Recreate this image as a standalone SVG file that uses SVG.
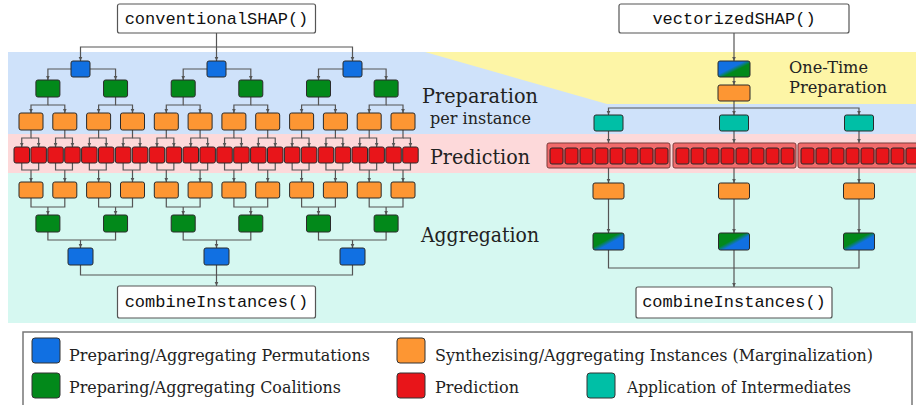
<svg xmlns="http://www.w3.org/2000/svg" width="916" height="405" viewBox="0 0 916 405">
<style>
.n{stroke:#2b2b2b;stroke-width:1;rx:2px}
.b{fill:#1170e2}.g{fill:#02891a}.o{fill:#fd9633}.r{fill:#e8151a}.t{fill:#00bfa6}
.rg{fill:#f26b6b;stroke:#7a3a3a;stroke-width:1;rx:2px}
.fb{fill:#fff;stroke:#555;stroke-width:1.2;rx:2px}
.mono{font-family:"Liberation Mono","DejaVu Sans Mono",monospace;font-size:17px;fill:#111}
.lab{font-family:"DejaVu Serif","Liberation Serif",serif;fill:#222}
.leg{font-family:"DejaVu Serif","Liberation Serif",serif;font-size:17px;fill:#222}
.c{fill:none;stroke:#555;stroke-width:1.2}
.a{marker-end:url(#ah)}
.lsq{stroke:#333;stroke-width:1;rx:3px}
</style>
<defs>
<marker id="ah" viewBox="0 0 6 6" refX="6" refY="3" markerWidth="4.5" markerHeight="4.5" orient="auto" markerUnits="userSpaceOnUse"><path d="M0,0.3 L6,3 L0,5.7z" fill="#555"/></marker>
<linearGradient id="bgG" x1="0" y1="0" x2="1" y2="1"><stop offset="0.42" stop-color="#1170e2"/><stop offset="0.58" stop-color="#02891a"/></linearGradient>
<linearGradient id="gbG" x1="0" y1="0" x2="1" y2="1"><stop offset="0.42" stop-color="#02891a"/><stop offset="0.58" stop-color="#1170e2"/></linearGradient>
</defs>

<g id="bands">
<rect x="8" y="52" width="908" height="82" fill="#cfe2fa"/>
<polygon points="425,52 916,52 916,104 607,104" fill="#fdf5a6"/>
<rect x="8" y="134" width="908" height="39" fill="#fdd9da"/>
<rect x="8" y="173" width="908" height="150" fill="#d6f8f1"/>
</g>

<g id="labels">
<text class="lab" x="422" y="103" font-size="21" textLength="116" lengthAdjust="spacingAndGlyphs">Preparation</text>
<text class="lab" x="430" y="124" font-size="16" textLength="101" lengthAdjust="spacingAndGlyphs">per instance</text>
<text class="lab" x="430" y="164" font-size="21" textLength="100" lengthAdjust="spacingAndGlyphs">Prediction</text>
<text class="lab" x="421" y="242" font-size="21" textLength="118" lengthAdjust="spacingAndGlyphs">Aggregation</text>
<text class="lab" x="789" y="73" font-size="17" textLength="79" lengthAdjust="spacingAndGlyphs">One-Time</text>
<text class="lab" x="789" y="93" font-size="17" textLength="98" lengthAdjust="spacingAndGlyphs">Preparation</text>
</g>

<g id="connectors">
<path class="c" d="M216.5,33 V47"/>
<path class="c a" d="M216.5,47 H80.5 V61"/>
<path class="c a" d="M216.5,47 V61"/>
<path class="c a" d="M216.5,47 H352.5 V61"/>
<path class="c a" d="M71,69 H47.9 V80"/>
<path class="c a" d="M90,69 H115.55 V80"/>
<path class="c a" d="M207,69 H183.2 V80"/>
<path class="c a" d="M226,69 H250.8 V80"/>
<path class="c a" d="M343,69 H318.5 V80"/>
<path class="c a" d="M362,69 H386.1 V80"/>
<path class="c a" d="M47.9,97 V105 H31 V113"/><path class="c a" d="M47.9,105 H64.8 V113"/>
<path class="c a" d="M115.55,97 V105 H98.6 V113"/><path class="c a" d="M115.55,105 H132.5 V113"/>
<path class="c a" d="M183.2,97 V105 H166.3 V113"/><path class="c a" d="M183.2,105 H200.1 V113"/>
<path class="c a" d="M250.8,97 V105 H233.9 V113"/><path class="c a" d="M250.8,105 H267.7 V113"/>
<path class="c a" d="M318.5,97 V105 H301.6 V113"/><path class="c a" d="M318.5,105 H335.4 V113"/>
<path class="c a" d="M386.1,97 V105 H369.2 V113"/><path class="c a" d="M386.1,105 H403 V113"/>
<path class="c a" d="M31,130 V138 H21.75 V147"/><path class="c a" d="M31,138 H38.65 V147"/>
<path class="c a" d="M64.8,130 V138 H55.55 V147"/><path class="c a" d="M64.8,138 H72.45 V147"/>
<path class="c a" d="M98.6,130 V138 H89.35 V147"/><path class="c a" d="M98.6,138 H106.25 V147"/>
<path class="c a" d="M132.5,130 V138 H123.15 V147"/><path class="c a" d="M132.5,138 H140.05 V147"/>
<path class="c a" d="M166.3,130 V138 H156.95 V147"/><path class="c a" d="M166.3,138 H173.85 V147"/>
<path class="c a" d="M200.1,130 V138 H190.75 V147"/><path class="c a" d="M200.1,138 H207.65 V147"/>
<path class="c a" d="M233.9,130 V138 H224.55 V147"/><path class="c a" d="M233.9,138 H241.45 V147"/>
<path class="c a" d="M267.7,130 V138 H258.35 V147"/><path class="c a" d="M267.7,138 H275.25 V147"/>
<path class="c a" d="M301.6,130 V138 H292.15 V147"/><path class="c a" d="M301.6,138 H309.05 V147"/>
<path class="c a" d="M335.4,130 V138 H325.95 V147"/><path class="c a" d="M335.4,138 H342.85 V147"/>
<path class="c a" d="M369.2,130 V138 H359.75 V147"/><path class="c a" d="M369.2,138 H376.65 V147"/>
<path class="c a" d="M403,130 V138 H393.55 V147"/><path class="c a" d="M403,138 H410.45 V147"/>
<path class="c" d="M21.75,163 V170 H38.65 V163"/><path class="c a" d="M31,170 V182"/>
<path class="c" d="M55.55,163 V170 H72.45 V163"/><path class="c a" d="M64.8,170 V182"/>
<path class="c" d="M89.35,163 V170 H106.25 V163"/><path class="c a" d="M98.6,170 V182"/>
<path class="c" d="M123.15,163 V170 H140.05 V163"/><path class="c a" d="M132.5,170 V182"/>
<path class="c" d="M156.95,163 V170 H173.85 V163"/><path class="c a" d="M166.3,170 V182"/>
<path class="c" d="M190.75,163 V170 H207.65 V163"/><path class="c a" d="M200.1,170 V182"/>
<path class="c" d="M224.55,163 V170 H241.45 V163"/><path class="c a" d="M233.9,170 V182"/>
<path class="c" d="M258.35,163 V170 H275.25 V163"/><path class="c a" d="M267.7,170 V182"/>
<path class="c" d="M292.15,163 V170 H309.05 V163"/><path class="c a" d="M301.6,170 V182"/>
<path class="c" d="M325.95,163 V170 H342.85 V163"/><path class="c a" d="M335.4,170 V182"/>
<path class="c" d="M359.75,163 V170 H376.65 V163"/><path class="c a" d="M369.2,170 V182"/>
<path class="c" d="M393.55,163 V170 H410.45 V163"/><path class="c a" d="M403,170 V182"/>
<path class="c" d="M31,198 V207 H64.8 V198"/><path class="c a" d="M47.9,207 V215"/>
<path class="c" d="M98.6,198 V207 H132.5 V198"/><path class="c a" d="M115.55,207 V215"/>
<path class="c" d="M166.3,198 V207 H200.1 V198"/><path class="c a" d="M183.2,207 V215"/>
<path class="c" d="M233.9,198 V207 H267.7 V198"/><path class="c a" d="M250.8,207 V215"/>
<path class="c" d="M301.6,198 V207 H335.4 V198"/><path class="c a" d="M318.5,207 V215"/>
<path class="c" d="M369.2,198 V207 H403 V198"/><path class="c a" d="M386.1,207 V215"/>
<path class="c" d="M47.9,232 V240 H115.55 V232"/><path class="c a" d="M80.5,240 V248"/>
<path class="c" d="M183.2,232 V240 H250.8 V232"/><path class="c a" d="M216.5,240 V248"/>
<path class="c" d="M318.5,232 V240 H386.1 V232"/><path class="c a" d="M352.5,240 V248"/>
<path class="c" d="M80.5,265 V275 H352.5 V265"/><path class="c" d="M216.5,265 V275"/><path class="c a" d="M216.5,275 V286"/>
<path class="c a" d="M734,33 V61"/>
<path class="c a" d="M734,77 V85"/>
<path class="c" d="M734,101 V108"/>
<path class="c a" d="M734,108 H608.5 V115"/>
<path class="c a" d="M734,108 V115"/>
<path class="c a" d="M734,108 H859 V115"/>
<path class="c a" d="M608.5,131 V143"/><path class="c a" d="M734,131 V143"/><path class="c a" d="M859,131 V143"/>
<path class="c a" d="M608.5,168 V183"/><path class="c a" d="M734,168 V183"/><path class="c a" d="M859,168 V183"/>
<path class="c a" d="M608.5,199 V233"/><path class="c a" d="M734,199 V233"/><path class="c a" d="M859,199 V233"/>
<path class="c" d="M608.5,250 V268 H859 V250"/><path class="c" d="M734,250 V268"/><path class="c a" d="M734,268 V287"/>
</g>

<g id="conventionalSHAP"><rect class="fb" x="117.5" y="4" width="198" height="29"/><text class="mono" x="216.5" y="24" text-anchor="middle">conventionalSHAP()</text></g>

<g id="permL1"><rect class="n b" x="71" y="61" width="19" height="16"/></g>
<g id="permL2"><rect class="n b" x="207" y="61" width="19" height="16"/></g>
<g id="permL3"><rect class="n b" x="343" y="61" width="19" height="16"/></g>

<g id="coalL1"><rect class="n g" x="35.9" y="80" width="24" height="17"/></g>
<g id="coalL2"><rect class="n g" x="103.55" y="80" width="24" height="17"/></g>
<g id="coalL3"><rect class="n g" x="171.2" y="80" width="24" height="17"/></g>
<g id="coalL4"><rect class="n g" x="238.8" y="80" width="24" height="17"/></g>
<g id="coalL5"><rect class="n g" x="306.5" y="80" width="24" height="17"/></g>
<g id="coalL6"><rect class="n g" x="374.1" y="80" width="24" height="17"/></g>

<g id="instL1"><rect class="n o" x="19" y="113" width="24" height="17"/></g>
<g id="instL2"><rect class="n o" x="52.8" y="113" width="24" height="17"/></g>
<g id="instL3"><rect class="n o" x="86.6" y="113" width="24" height="17"/></g>
<g id="instL4"><rect class="n o" x="120.5" y="113" width="24" height="17"/></g>
<g id="instL5"><rect class="n o" x="154.3" y="113" width="24" height="17"/></g>
<g id="instL6"><rect class="n o" x="188.1" y="113" width="24" height="17"/></g>
<g id="instL7"><rect class="n o" x="221.9" y="113" width="24" height="17"/></g>
<g id="instL8"><rect class="n o" x="255.7" y="113" width="24" height="17"/></g>
<g id="instL9"><rect class="n o" x="289.6" y="113" width="24" height="17"/></g>
<g id="instL10"><rect class="n o" x="323.4" y="113" width="24" height="17"/></g>
<g id="instL11"><rect class="n o" x="357.2" y="113" width="24" height="17"/></g>
<g id="instL12"><rect class="n o" x="391" y="113" width="24" height="17"/></g>

<g id="predL1"><rect class="n r" x="14" y="147" width="15.5" height="16"/></g>
<g id="predL2"><rect class="n r" x="30.9" y="147" width="15.5" height="16"/></g>
<g id="predL3"><rect class="n r" x="47.8" y="147" width="15.5" height="16"/></g>
<g id="predL4"><rect class="n r" x="64.7" y="147" width="15.5" height="16"/></g>
<g id="predL5"><rect class="n r" x="81.6" y="147" width="15.5" height="16"/></g>
<g id="predL6"><rect class="n r" x="98.5" y="147" width="15.5" height="16"/></g>
<g id="predL7"><rect class="n r" x="115.4" y="147" width="15.5" height="16"/></g>
<g id="predL8"><rect class="n r" x="132.3" y="147" width="15.5" height="16"/></g>
<g id="predL9"><rect class="n r" x="149.2" y="147" width="15.5" height="16"/></g>
<g id="predL10"><rect class="n r" x="166.1" y="147" width="15.5" height="16"/></g>
<g id="predL11"><rect class="n r" x="183" y="147" width="15.5" height="16"/></g>
<g id="predL12"><rect class="n r" x="199.9" y="147" width="15.5" height="16"/></g>
<g id="predL13"><rect class="n r" x="216.8" y="147" width="15.5" height="16"/></g>
<g id="predL14"><rect class="n r" x="233.7" y="147" width="15.5" height="16"/></g>
<g id="predL15"><rect class="n r" x="250.6" y="147" width="15.5" height="16"/></g>
<g id="predL16"><rect class="n r" x="267.5" y="147" width="15.5" height="16"/></g>
<g id="predL17"><rect class="n r" x="284.4" y="147" width="15.5" height="16"/></g>
<g id="predL18"><rect class="n r" x="301.3" y="147" width="15.5" height="16"/></g>
<g id="predL19"><rect class="n r" x="318.2" y="147" width="15.5" height="16"/></g>
<g id="predL20"><rect class="n r" x="335.1" y="147" width="15.5" height="16"/></g>
<g id="predL21"><rect class="n r" x="352" y="147" width="15.5" height="16"/></g>
<g id="predL22"><rect class="n r" x="368.9" y="147" width="15.5" height="16"/></g>
<g id="predL23"><rect class="n r" x="385.8" y="147" width="15.5" height="16"/></g>
<g id="predL24"><rect class="n r" x="402.7" y="147" width="15.5" height="16"/></g>

<g id="aggInstL1"><rect class="n o" x="19" y="182" width="24" height="16"/></g>
<g id="aggInstL2"><rect class="n o" x="52.8" y="182" width="24" height="16"/></g>
<g id="aggInstL3"><rect class="n o" x="86.6" y="182" width="24" height="16"/></g>
<g id="aggInstL4"><rect class="n o" x="120.5" y="182" width="24" height="16"/></g>
<g id="aggInstL5"><rect class="n o" x="154.3" y="182" width="24" height="16"/></g>
<g id="aggInstL6"><rect class="n o" x="188.1" y="182" width="24" height="16"/></g>
<g id="aggInstL7"><rect class="n o" x="221.9" y="182" width="24" height="16"/></g>
<g id="aggInstL8"><rect class="n o" x="255.7" y="182" width="24" height="16"/></g>
<g id="aggInstL9"><rect class="n o" x="289.6" y="182" width="24" height="16"/></g>
<g id="aggInstL10"><rect class="n o" x="323.4" y="182" width="24" height="16"/></g>
<g id="aggInstL11"><rect class="n o" x="357.2" y="182" width="24" height="16"/></g>
<g id="aggInstL12"><rect class="n o" x="391" y="182" width="24" height="16"/></g>

<g id="aggCoalL1"><rect class="n g" x="35.9" y="215" width="24" height="17"/></g>
<g id="aggCoalL2"><rect class="n g" x="103.55" y="215" width="24" height="17"/></g>
<g id="aggCoalL3"><rect class="n g" x="171.2" y="215" width="24" height="17"/></g>
<g id="aggCoalL4"><rect class="n g" x="238.8" y="215" width="24" height="17"/></g>
<g id="aggCoalL5"><rect class="n g" x="306.5" y="215" width="24" height="17"/></g>
<g id="aggCoalL6"><rect class="n g" x="374.1" y="215" width="24" height="17"/></g>

<g id="aggPermL1"><rect class="n b" x="68" y="248" width="25" height="17"/></g>
<g id="aggPermL2"><rect class="n b" x="204" y="248" width="25" height="17"/></g>
<g id="aggPermL3"><rect class="n b" x="340" y="248" width="25" height="17"/></g>

<g id="combineL"><rect class="fb" x="117.5" y="286" width="198" height="32"/><text class="mono" x="216.5" y="307" text-anchor="middle">combineInstances()</text></g>

<g id="vectorizedSHAP"><rect class="fb" x="619" y="4" width="230" height="29"/><text class="mono" x="734" y="24" text-anchor="middle">vectorizedSHAP()</text></g>
<g id="prepPermCoalR"><rect class="n" x="718" y="61" width="32" height="16" fill="url(#bgG)"/></g>
<g id="prepInstR"><rect class="n o" x="718" y="85" width="32" height="16"/></g>
<g id="applyR1"><rect class="n t" x="594" y="115" width="29" height="16"/></g>
<g id="applyR2"><rect class="n t" x="719.5" y="115" width="29" height="16"/></g>
<g id="applyR3"><rect class="n t" x="844.5" y="115" width="29" height="16"/></g>

<g id="predR1"><rect class="rg" x="547" y="143" width="123" height="25"/>
<rect class="n r" x="550" y="148" width="13" height="16"/><rect class="n r" x="565" y="148" width="13" height="16"/><rect class="n r" x="580" y="148" width="13" height="16"/><rect class="n r" x="595" y="148" width="13" height="16"/><rect class="n r" x="610" y="148" width="13" height="16"/><rect class="n r" x="625" y="148" width="13" height="16"/><rect class="n r" x="640" y="148" width="13" height="16"/><rect class="n r" x="655" y="148" width="13" height="16"/></g>
<g id="predR2"><rect class="rg" x="673" y="143" width="123" height="25"/>
<rect class="n r" x="676" y="148" width="13" height="16"/><rect class="n r" x="691" y="148" width="13" height="16"/><rect class="n r" x="706" y="148" width="13" height="16"/><rect class="n r" x="721" y="148" width="13" height="16"/><rect class="n r" x="736" y="148" width="13" height="16"/><rect class="n r" x="751" y="148" width="13" height="16"/><rect class="n r" x="766" y="148" width="13" height="16"/><rect class="n r" x="781" y="148" width="13" height="16"/></g>
<g id="predR3"><rect class="rg" x="798" y="143" width="123" height="25"/>
<rect class="n r" x="801" y="148" width="13" height="16"/><rect class="n r" x="816" y="148" width="13" height="16"/><rect class="n r" x="831" y="148" width="13" height="16"/><rect class="n r" x="846" y="148" width="13" height="16"/><rect class="n r" x="861" y="148" width="13" height="16"/><rect class="n r" x="876" y="148" width="13" height="16"/><rect class="n r" x="891" y="148" width="13" height="16"/><rect class="n r" x="906" y="148" width="13" height="16"/></g>

<g id="aggInstR1"><rect class="n o" x="593" y="183" width="31" height="16"/></g>
<g id="aggInstR2"><rect class="n o" x="718.5" y="183" width="31" height="16"/></g>
<g id="aggInstR3"><rect class="n o" x="843.5" y="183" width="31" height="16"/></g>
<g id="aggCoalPermR1"><rect class="n" x="593" y="233" width="31" height="17" fill="url(#gbG)"/></g>
<g id="aggCoalPermR2"><rect class="n" x="718.5" y="233" width="31" height="17" fill="url(#gbG)"/></g>
<g id="aggCoalPermR3"><rect class="n" x="843.5" y="233" width="31" height="17" fill="url(#gbG)"/></g>
<g id="combineR"><rect class="fb" x="636" y="287" width="196" height="31"/><text class="mono" x="734" y="307" text-anchor="middle">combineInstances()</text></g>

<g id="legend">
<rect x="23" y="332" width="889" height="80" fill="#fff" stroke="#777" stroke-width="1.5"/>
<rect class="lsq b" x="32" y="338" width="28" height="25"/>
<text class="leg" x="69" y="361" textLength="301" lengthAdjust="spacingAndGlyphs">Preparing/Aggregating Permutations</text>
<rect class="lsq g" x="32" y="373" width="28" height="25"/>
<text class="leg" x="69" y="393" textLength="272" lengthAdjust="spacingAndGlyphs">Preparing/Aggregating Coalitions</text>
<rect class="lsq o" x="397" y="338" width="28" height="25"/>
<text class="leg" x="435" y="361" font-size="15.5" textLength="438" lengthAdjust="spacingAndGlyphs">Synthezising/Aggregating Instances (Marginalization)</text>
<rect class="lsq r" x="397" y="373" width="28" height="25"/>
<text class="leg" x="435" y="393" textLength="84" lengthAdjust="spacingAndGlyphs">Prediction</text>
<rect class="lsq t" x="587" y="373" width="28" height="25"/>
<text class="leg" x="627" y="393" textLength="224" lengthAdjust="spacingAndGlyphs">Application of Intermediates</text>
</g>
</svg>
